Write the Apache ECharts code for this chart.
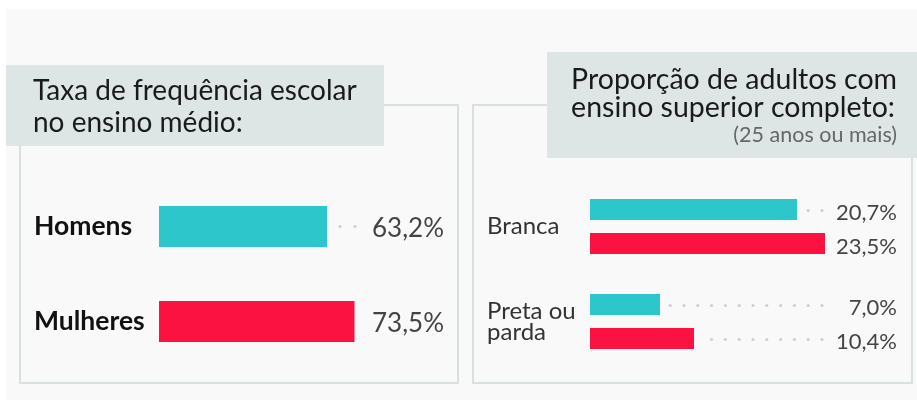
<!DOCTYPE html>
<html>
<head>
<meta charset="utf-8">
<script src="https://cdn.jsdelivr.net/npm/echarts@6/dist/echarts.min.js"></script>
<style>
  html, body { margin: 0; padding: 0; background: #fff; }
  #chart { width: 917px; height: 409px; }
</style>
</head>
<body>
<div id="chart"></div>
<script>
// dados
var leftCategories = ['Homens', 'Mulheres']
var leftValues = [63.2, 73.5]
var rightCategories = ['Branca', 'Preta ou\nparda']
var rightCyan = [20.7, 7.0]
var rightRed = [23.5, 10.4]

var CYAN = '#2dc7cb'
var RED = '#fc1240'
var FONT = 'Lato'

function fmt(v) {
  return v.toFixed(1).replace('.', ',') + '%'
}

// pontinhos + rotulo alinhado a direita
function leaderItem(values, dotEnd, labelRight, step, gap, offset, fontSize) {
  return function (params, api) {
    var i = api.value(0)
    var v = values[i]
    var c = api.coord([v, i])
    var y = c[1] + offset
    var children = []
    for (var x = dotEnd; x > c[0] + gap; x -= step) {
      children.push({
        type: 'circle',
        shape: { cx: x, cy: y, r: 1.6 },
        style: { fill: '#cfcfcf' }
      })
    }
    children.push({
      type: 'text',
      style: {
        text: fmt(v),
        x: labelRight,
        y: y + 2,
        align: 'right',
        verticalAlign: 'middle',
        font: fontSize + 'px ' + FONT,
        fill: '#444'
      }
    })
    return { type: 'group', children: children }
  }
}

var chart = echarts.init(document.getElementById('chart'))

chart.setOption({
  animation: false,
  graphic: [
    { type: 'rect', shape: { x: 6, y: 9, width: 911, height: 391 }, style: { fill: '#f9f9f9' }, z: -10 },
    // molduras
    { type: 'rect', shape: { x: 20, y: 105, width: 438, height: 278 }, style: { fill: 'none', stroke: '#d8e0e0', lineWidth: 2 }, z: -5 },
    { type: 'rect', shape: { x: 473, y: 105, width: 439, height: 278 }, style: { fill: 'none', stroke: '#d8e0e0', lineWidth: 2 }, z: -5 },
    // caixas de titulo
    { type: 'rect', shape: { x: 6, y: 65, width: 378, height: 81 }, style: { fill: '#dde5e5' }, z: -4 },
    { type: 'rect', shape: { x: 547, y: 52, width: 370, height: 106 }, style: { fill: '#dde5e5' }, z: -4 },
    {
      type: 'text', left: 33, top: 74.5,
      style: { text: 'Taxa de frequência escolar\nno ensino médio:', font: '28px ' + FONT, lineHeight: 32.5, fill: '#1a1a1a' }
    },
    {
      type: 'text', right: 20, top: 65,
      style: { text: 'Proporção de adultos com\nensino superior completo:', font: '28.5px ' + FONT, lineHeight: 28, fill: '#1a1a1a', align: 'right' }
    },
    {
      type: 'text', right: 20, top: 124.5,
      style: { text: '(25 anos ou mais)', font: '21.5px ' + FONT, lineHeight: 22, fill: '#666', align: 'right' }
    }
  ],
  grid: [
    { left: 159, width: 266, top: 179, height: 190 },
    { left: 590, width: 300, top: 179, height: 190 }
  ],
  xAxis: [
    { gridIndex: 0, type: 'value', min: 0, max: 100, show: false },
    { gridIndex: 1, type: 'value', min: 0, max: 30, show: false }
  ],
  yAxis: [
    {
      gridIndex: 0, type: 'category', data: leftCategories, inverse: true,
      axisLine: { show: false }, axisTick: { show: false },
      axisLabel: { align: 'left', margin: 125, fontFamily: FONT, fontSize: 26.5, fontWeight: 'bold', color: '#111' }
    },
    {
      gridIndex: 1, type: 'category', data: rightCategories, inverse: true,
      axisLine: { show: false }, axisTick: { show: false },
      axisLabel: { align: 'left', margin: 103, fontFamily: FONT, fontSize: 24, color: '#333', lineHeight: 21 }
    }
  ],
  series: [
    {
      type: 'bar', xAxisIndex: 0, yAxisIndex: 0, barWidth: 41,
      data: leftValues.map(function (v, i) {
        return { value: v, itemStyle: { color: i === 0 ? CYAN : RED } }
      })
    },
    {
      type: 'custom', xAxisIndex: 0, yAxisIndex: 0,
      data: leftValues.map(function (v, i) { return [i] }),
      encode: { y: 0 },
      renderItem: leaderItem(leftValues, 355, 444, 15, 10, 0, 26)
    },
    {
      type: 'bar', xAxisIndex: 1, yAxisIndex: 1, barWidth: 21, barGap: '62%',
      itemStyle: { color: CYAN }, data: rightCyan
    },
    {
      type: 'bar', xAxisIndex: 1, yAxisIndex: 1, barWidth: 21, barGap: '62%',
      itemStyle: { color: RED }, data: rightRed
    },
    {
      type: 'custom', xAxisIndex: 1, yAxisIndex: 1,
      data: rightCyan.map(function (v, i) { return [i] }),
      encode: { y: 0 },
      renderItem: leaderItem(rightCyan, 822, 897, 13.8, 8, -16, 22)
    },
    {
      type: 'custom', xAxisIndex: 1, yAxisIndex: 1,
      data: rightRed.map(function (v, i) { return [i] }),
      encode: { y: 0 },
      renderItem: leaderItem(rightRed, 822, 897, 13.8, 8, 18, 22)
    }
  ]
})
</script>
</body>
</html>
